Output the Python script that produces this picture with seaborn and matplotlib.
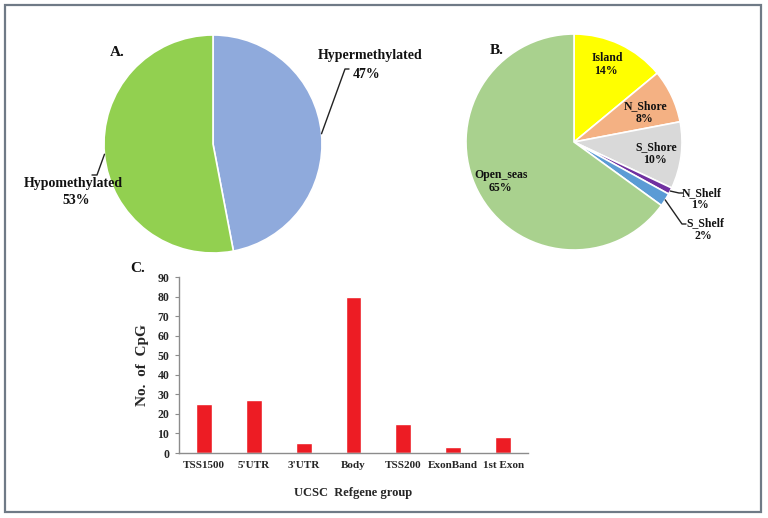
import numpy as np
import matplotlib
matplotlib.use("Agg")
import matplotlib.pyplot as plt
import matplotlib.transforms as mtransforms
from matplotlib.patches import Rectangle
import seaborn as sns
import pandas as pd

# ---------------- data ----------------
methyl_labels = ["Hypermethylated", "Hypomethylated"]
methyl_values = [47, 53]
methyl_colors = ["#8FAADC", "#92D050"]

region_labels = ["Island", "N_Shore", "S_Shore", "N_Shelf", "S_Shelf", "Open_seas"]
region_values = [14, 8, 10, 1, 2, 65]
region_colors = ["#FFFF00", "#F4B183", "#D9D9D9", "#7030A0", "#5B9BD5", "#A9D18E"]

gene_groups = ["TSS1500", "5'UTR", "3'UTR", "Body", "TSS200", "ExonBand", "1st Exon"]
gene_counts = [25, 27, 5, 80, 15, 3, 8]
bar_color = "#ED1C24"

y_ticks = [0, 10, 20, 30, 40, 50, 60, 70, 80, 90]

# ---------------- style ----------------
sns.set_theme(style="white")
plt.rcParams["font.family"] = ["Liberation Serif", "DejaVu Serif"]
plt.rcParams["font.weight"] = "bold"

W, H = 768, 518
fig = plt.figure(figsize=(W / 100, H / 100), dpi=100)
fig.patch.set_facecolor("white")

# pixel transform (image coords, y downward)
px = mtransforms.Affine2D().scale(1 / W, -1 / H).translate(0, 1) + fig.transFigure


def rect(l, t, w, h):
    return [l / W, 1 - (t + h) / H, w / W, h / H]


def txt(x, y, s, size=8, ha="center"):
    fig.text(x, y, s, transform=px, ha=ha, va="center", fontsize=size,
             fontweight="bold", color="#111111")


def leader(pts):
    xs, ys = zip(*pts)
    fig.add_artist(plt.Line2D(xs, ys, transform=px, color="#222222", lw=1.0))


def wedge_point(cx, cy, r, w):
    ang = np.deg2rad((w.theta1 + w.theta2) / 2)
    return cx + r * np.cos(ang), cy - r * np.sin(ang)


# border frame
fig.add_artist(Rectangle((5, 5), 756, 507, transform=px, fill=False,
                         edgecolor="#6F7A86", lw=1.6))

# ---------------- Pie A ----------------
la, ta, sa = 104, 35, 218
axA = fig.add_axes(rect(la, ta, sa, sa))
wedgesA, _ = axA.pie(methyl_values, colors=methyl_colors, startangle=90,
                     counterclock=False, radius=1,
                     wedgeprops=dict(edgecolor="white", linewidth=1.2))
axA.set_xlim(-1, 1)
axA.set_ylim(-1, 1)
axA.set_aspect("equal")
axA.axis("off")
cxA, cyA, rA = la + sa / 2, ta + sa / 2, sa / 2

txt(117, 53, "A.", size=11)
p = wedge_point(cxA, cyA, rA, wedgesA[0])
leader([p, (345, 69), (349, 69)])
txt(370, 56, methyl_labels[0], size=10)
txt(367, 74, f"{methyl_values[0]}%", size=10)
p = wedge_point(cxA, cyA, rA, wedgesA[1])
leader([p, (97, 175), (92, 175)])
txt(73, 183, methyl_labels[1], size=10)
txt(76, 200, f"{methyl_values[1]}%", size=10)

# ---------------- Pie B ----------------
lb, tb, sb = 466, 34, 216
axB = fig.add_axes(rect(lb, tb, sb, sb))
wedgesB, _ = axB.pie(region_values, colors=region_colors, startangle=90,
                     counterclock=False, radius=1,
                     wedgeprops=dict(edgecolor="white", linewidth=1.2))
axB.set_xlim(-1, 1)
axB.set_ylim(-1, 1)
axB.set_aspect("equal")
axB.axis("off")
cxB, cyB, rB = lb + sb / 2, tb + sb / 2, sb / 2

txt(497, 50, "B.", size=11)
inside_pos = {"Island": (607, 58), "N_Shore": (646, 106),
              "S_Shore": (656, 147), "Open_seas": (501, 175)}
for lab, val in zip(region_labels, region_values):
    if lab in inside_pos:
        x, y = inside_pos[lab]
        txt(x, y, lab, size=8.5)
        txt(x - 1, y + 13, f"{val}%", size=8.5)

p = wedge_point(cxB, cyB, rB, wedgesB[3])
leader([p, (679, 193), (683, 193)])
txt(702, 193, region_labels[3], size=8.5)
txt(700, 205, f"{region_values[3]}%", size=8.5)
p = wedge_point(cxB, cyB, rB, wedgesB[4])
leader([p, (682, 224), (686, 224)])
txt(705, 223, region_labels[4], size=8.5)
txt(703, 236, f"{region_values[4]}%", size=8.5)

# ---------------- Bar C ----------------
axC = fig.add_axes(rect(179, 277, 349, 176))
df = pd.DataFrame({"group": gene_groups, "count": gene_counts})
sns.barplot(data=df, x="group", y="count", color=bar_color, width=0.32,
            saturation=1, ax=axC)
axC.set_xlim(-0.5, len(gene_groups) - 0.5)
axC.set_ylim(0, 90)
axC.set_yticks(y_ticks)
axC.set_facecolor("white")
for s in ["top", "right"]:
    axC.spines[s].set_visible(False)
for s in ["left", "bottom"]:
    axC.spines[s].set_color("#8C8C8C")
    axC.spines[s].set_linewidth(1.0)
axC.tick_params(axis="x", length=0, pad=6, labelsize=8)
axC.tick_params(axis="y", length=3, width=0.8, color="#8C8C8C", pad=4, labelsize=8.5, left=True)
for lbl in axC.get_xticklabels() + axC.get_yticklabels():
    lbl.set_fontweight("bold")
axC.set_xlabel("UCSC  Refgene group", fontsize=9, fontweight="bold", labelpad=12)
axC.set_ylabel("No.  of  CpG", fontsize=11, fontweight="bold", labelpad=6)
txt(138, 269, "C.", size=11)

fig.savefig("out.png", dpi=100, facecolor="white")
